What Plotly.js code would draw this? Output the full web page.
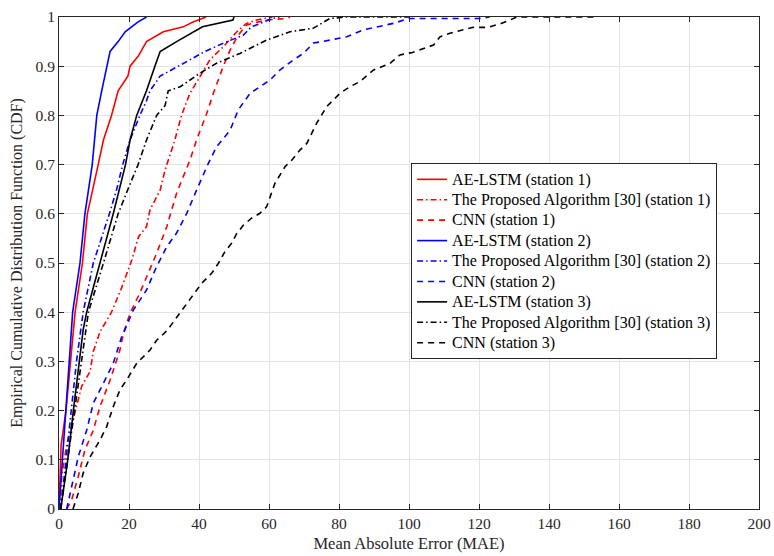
<!DOCTYPE html>
<html>
<head>
<meta charset="utf-8">
<script src="https://cdn.plot.ly/plotly-3.0.1.min.js"></script>
<style>html,body{margin:0;padding:0;background:#fff;}#chart{width:774px;height:556px;}</style>
</head>
<body>
<div id="chart"></div>
<script>
// AE-LSTM (station 1)
const aeS1X = [0, 0.5, 0.6, 2, 3.3, 4.6, 6.7, 8.1, 11.2, 12.7, 15, 16.9, 19.7, 20.3, 22.6, 25, 29.8, 35.5, 38.3, 42];
const aeS1Y = [0, 0.08, 0.13, 0.2, 0.3, 0.4, 0.5, 0.6, 0.7, 0.75, 0.8, 0.85, 0.88, 0.9, 0.92, 0.95, 0.97, 0.98, 0.99, 1];
// Proposed Algorithm [30] (station 1)
const propS1X = [0.3, 0.8, 2.2, 4.6, 6.5, 8.9, 9.8, 11.7, 15, 17.9, 20.8, 22.7, 25, 26, 28.9, 30.3, 33.1, 35, 37.4, 40.3, 43.1, 47, 50.8, 53.6, 56.5, 61];
const propS1Y = [0, 0.07, 0.13, 0.2, 0.25, 0.28, 0.32, 0.36, 0.4, 0.45, 0.506, 0.553, 0.574, 0.608, 0.648, 0.689, 0.75, 0.8, 0.845, 0.879, 0.913, 0.94, 0.97, 0.987, 0.994, 1];
// CNN (station 1)
const cnnS1X = [2.2, 3.6, 5.5, 7.4, 9.8, 11.7, 14.6, 17.4, 18.4, 20.3, 23.1, 26, 27.9, 30.8, 33.6, 37.4, 39.3, 42.2, 44.1, 46.9, 48.9, 51.2, 53.6, 59.3, 65, 66];
const cnnS1Y = [0, 0.018, 0.066, 0.12, 0.16, 0.208, 0.262, 0.323, 0.357, 0.398, 0.439, 0.486, 0.52, 0.574, 0.642, 0.709, 0.75, 0.804, 0.845, 0.899, 0.933, 0.963, 0.984, 0.994, 0.997, 1];
// AE-LSTM (station 2)
const aeS2X = [0, 1, 2, 2.8, 3.9, 6, 7.4, 9.5, 10.8, 12.2, 13.6, 14.6, 16.9, 18.9, 22.6, 25];
const aeS2Y = [0, 0.1, 0.2, 0.3, 0.4, 0.5, 0.6, 0.7, 0.8, 0.85, 0.9, 0.93, 0.95, 0.97, 0.99, 1];
// Proposed Algorithm [30] (station 2)
const propS2X = [0.5, 2, 3.5, 5, 6.9, 9.8, 14.4, 16.5, 18.2, 20.3, 23.1, 25, 26, 28.9, 34.6, 41.7, 47, 52.6, 55, 61, 63];
const propS2Y = [0, 0.1, 0.2, 0.3, 0.4, 0.5, 0.6, 0.65, 0.7, 0.75, 0.8, 0.83, 0.85, 0.88, 0.902, 0.93, 0.947, 0.963, 0.98, 0.997, 1];
// CNN (station 2)
const cnnS2X = [2.2, 3.6, 5.5, 7.9, 9.8, 12.7, 15.5, 17.9, 18.4, 21.2, 25, 27.9, 30.8, 33.6, 36.5, 39.3, 42.5, 45, 48.9, 51.2, 54.6, 57.4, 60.3, 63.1, 67, 69.8, 72.7, 77.4, 82.2, 87, 95.5, 100, 121, 123];
const cnnS2Y = [0, 0.045, 0.106, 0.16, 0.215, 0.256, 0.296, 0.35, 0.357, 0.404, 0.445, 0.493, 0.533, 0.561, 0.601, 0.648, 0.7, 0.736, 0.77, 0.811, 0.845, 0.858, 0.872, 0.892, 0.913, 0.926, 0.947, 0.953, 0.96, 0.974, 0.987, 0.997, 0.997, 1];
// AE-LSTM (station 3)
const aeS3X = [0.5, 2.5, 4.1, 5.7, 6.9, 7.9, 9.8, 11.5, 15.5, 19, 20.3, 22.2, 25, 27.4, 28.9, 33.6, 41, 49.7, 50];
const aeS3Y = [0, 0.1, 0.2, 0.3, 0.364, 0.4, 0.45, 0.5, 0.6, 0.7, 0.75, 0.8, 0.85, 0.9, 0.93, 0.95, 0.98, 0.994, 1];
// Proposed Algorithm [30] (station 3)
const propS3X = [0.5, 2.5, 4.5, 6.5, 8.4, 12.7, 16.9, 19.7, 22.6, 25, 27.9, 30.3, 31.2, 34.6, 40.3, 45, 51.7, 59.3, 66, 72.6, 77.4, 81.9, 100];
const propS3Y = [0, 0.1, 0.2, 0.3, 0.4, 0.5, 0.6, 0.65, 0.7, 0.75, 0.8, 0.82, 0.85, 0.858, 0.886, 0.906, 0.926, 0.953, 0.97, 0.977, 0.997, 1, 1];
// CNN (station 3)
const cnnS3X = [4, 5.5, 6.9, 8.9, 11.7, 13.6, 15.5, 17.4, 19.3, 22.2, 26, 27.9, 30.8, 34.6, 37.4, 39.3, 40.8, 43.6, 45.5, 47.4, 49.3, 50.8, 52.7, 55, 57.4, 59.3, 60.3, 61.7, 64.6, 66.5, 68.9, 70.8, 73.6, 76.5, 80.3, 83.1, 86, 89.8, 94.6, 97.4, 101, 104, 107, 108.9, 111.7, 115.5, 118.4, 122.6, 126, 128.9, 130.8, 153];
const cnnS3Y = [0, 0.032, 0.073, 0.106, 0.14, 0.167, 0.208, 0.242, 0.262, 0.296, 0.323, 0.343, 0.362, 0.398, 0.425, 0.445, 0.459, 0.479, 0.499, 0.523, 0.54, 0.56, 0.577, 0.591, 0.601, 0.614, 0.635, 0.662, 0.696, 0.709, 0.73, 0.743, 0.784, 0.818, 0.845, 0.858, 0.869, 0.892, 0.906, 0.923, 0.928, 0.936, 0.943, 0.96, 0.967, 0.974, 0.979, 0.979, 0.986, 0.994, 1, 1];

const names = [
  'AE-LSTM (station 1)', 'The Proposed Algorithm [30] (station 1)', 'CNN (station 1)',
  'AE-LSTM (station 2)', 'The Proposed Algorithm [30] (station 2)', 'CNN (station 2)',
  'AE-LSTM (station 3)', 'The Proposed Algorithm [30] (station 3)', 'CNN (station 3)'
];
const xs = [aeS1X, propS1X, cnnS1X, aeS2X, propS2X, cnnS2X, aeS3X, propS3X, cnnS3X];
const ys = [aeS1Y, propS1Y, cnnS1Y, aeS2Y, propS2Y, cnnS2Y, aeS3Y, propS3Y, cnnS3Y];
const colors = ['#ff0000', '#ff0000', '#ff0000', '#0000ff', '#0000ff', '#0000ff', '#000000', '#000000', '#000000'];
const dashes = ['solid', '6px,3px,1.5px,3px', '6px,5px', 'solid', '6px,3px,1.5px,3px', '6px,5px', 'solid', '6px,3px,1.5px,3px', '6px,5px'];

const traces = names.map((n, i) => ({
  type: 'scatter', mode: 'lines',
  name: '<span style="font-size:16px">' + n + '</span>',
  x: xs[i], y: ys[i],
  line: {color: colors[i], width: 1.6, dash: dashes[i]}
}));

const FAM = 'Liberation Serif, Times New Roman, serif';
const font = {family: FAM, size: 16, color: '#262626'};
const axisCommon = {
  showline: true, mirror: 'ticks', linecolor: '#262626', linewidth: 1,
  ticks: 'inside', ticklen: 5, tickcolor: '#262626',
  showgrid: true, gridcolor: '#e3e3e3', gridwidth: 1, zeroline: false,
  tickfont: {family: FAM, size: 15.5, color: '#262626'}
};
const layout = {
  width: 774, height: 556,
  margin: {l: 59, r: 15, t: 17, b: 47},
  paper_bgcolor: '#fff', plot_bgcolor: '#fff',
  font: font,
  showlegend: true,
  xaxis: Object.assign({}, axisCommon, {
    range: [0, 200], dtick: 20, tick0: 0,
    title: {text: 'Mean Absolute Error (MAE)', font: {family: FAM, size: 16.5, color: '#262626'}, standoff: 6}
  }),
  yaxis: Object.assign({}, axisCommon, {
    range: [0, 1], dtick: 0.1, tick0: 0,
    title: {text: 'Empirical Cumulative Distribution Function (CDF)', font: {family: FAM, size: 16, color: '#262626'}, standoff: 8}
  }),
  legend: {
    x: 0.503, y: 0.703, xanchor: 'left', yanchor: 'top',
    bgcolor: '#ffffff', bordercolor: '#262626', borderwidth: 1,
    font: {family: FAM, size: 13.4, color: '#000'},
    itemwidth: 30, tracegroupgap: 0
  }
};
Plotly.newPlot('chart', traces, layout, {staticPlot: true, displayModeBar: false});
</script>
</body>
</html>
